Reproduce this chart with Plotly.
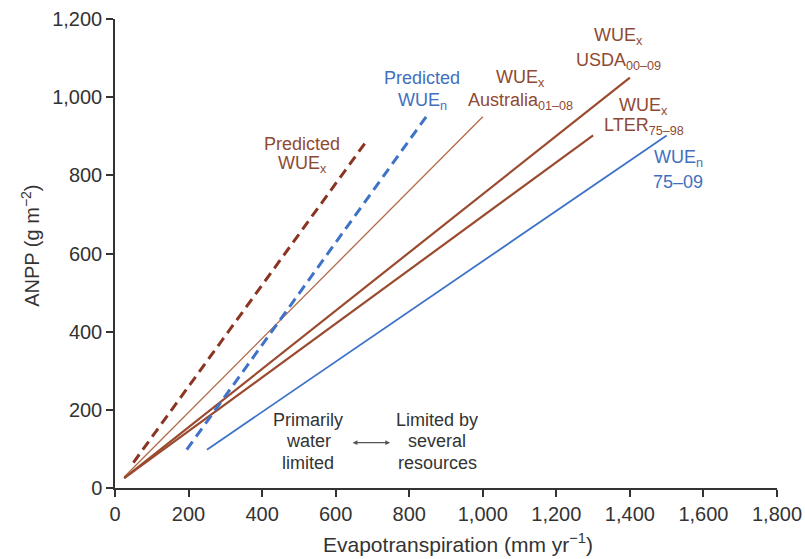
import plotly.graph_objects as go

# Line endpoints (ET in mm/yr, ANPP in g/m2)
pred_wuex_x = [50, 688]
pred_wuex_y = [65, 893]
pred_wuen_x = [195, 850]
pred_wuen_y = [98, 955]
aus_x = [25, 1000]
aus_y = [28, 950]
usda_x = [25, 1400]
usda_y = [25, 1050]
lter_x = [25, 1300]
lter_y = [25, 902]
wuen_x = [250, 1500]
wuen_y = [98, 902]

x_ticks = [0, 200, 400, 600, 800, 1000, 1200, 1400, 1600, 1800]
x_tick_labels = ["0", "200", "400", "600", "800", "1,000", "1,200", "1,400", "1,600", "1,800"]
y_ticks = [0, 200, 400, 600, 800, 1000, 1200]
y_tick_labels = ["0", "200", "400", "600", "800", "1,000", "1,200"]

BROWN = "#9a4a2e"
DARKRED = "#8a3422"
LIGHTBROWN = "#b06a48"
BLUE = "#3e73c8"
BLUE_TXT = "#4270c0"
TXT_BROWN = "#8f4a34"
AX = "#333333"
FONT = "Liberation Sans, Arial, sans-serif"

fig = go.Figure()
fig.add_trace(go.Scatter(x=aus_x, y=aus_y, mode="lines", line=dict(color=LIGHTBROWN, width=1.3), showlegend=False))
fig.add_trace(go.Scatter(x=usda_x, y=usda_y, mode="lines", line=dict(color=BROWN, width=2.2), showlegend=False))
fig.add_trace(go.Scatter(x=lter_x, y=lter_y, mode="lines", line=dict(color=BROWN, width=2.2), showlegend=False))
fig.add_trace(go.Scatter(x=wuen_x, y=wuen_y, mode="lines", line=dict(color=BLUE, width=1.8), showlegend=False))
fig.add_trace(go.Scatter(x=pred_wuex_x, y=pred_wuex_y, mode="lines",
                         line=dict(color=DARKRED, width=3, dash="10px,6px"), showlegend=False))
fig.add_trace(go.Scatter(x=pred_wuen_x, y=pred_wuen_y, mode="lines",
                         line=dict(color=BLUE, width=3, dash="10px,6px"), showlegend=False))

# each label line: (x, y, text, colour)
labels = [
    (509, 880, "Predicted", TXT_BROWN),
    (509, 827, "WUE<sub>x</sub>", TXT_BROWN),
    (835, 1050, "Predicted", BLUE_TXT),
    (835, 990, "WUE<sub>n</sub>", BLUE_TXT),
    (1102, 1047, "WUE<sub>x</sub>", TXT_BROWN),
    (1102, 988, "Australia<sub>01–08</sub>", TXT_BROWN),
    (1369, 1155, "WUE<sub>x</sub>", TXT_BROWN),
    (1369, 1091, "USDA<sub>00–09</sub>", TXT_BROWN),
    (1437, 975, "WUE<sub>x</sub>", TXT_BROWN),
    (1437, 924, "LTER<sub>75–98</sub>", TXT_BROWN),
    (1532, 842, "WUE<sub>n</sub>", BLUE_TXT),
    (1532, 783, "75–09", BLUE_TXT),
    (525, 175, "Primarily", "#333"),
    (525, 120, "water", "#333"),
    (525, 65, "limited", "#333"),
    (876, 175, "Limited by", "#333"),
    (876, 120, "several", "#333"),
    (876, 65, "resources", "#333"),
]
annotations = []
for x, y, t, c in labels:
    annotations.append(dict(x=x, y=y, text=t, showarrow=False, xanchor="center", yanchor="middle",
                            font=dict(family=FONT, size=18, color=c)))

annotations.append(dict(x=748, y=116, ax=642, ay=116, axref="x", ayref="y", text="", showarrow=True,
                        arrowhead=2, arrowside="end+start", arrowsize=0.8, arrowwidth=1.2, arrowcolor="#555"))

annotations.append(dict(xref="paper", yref="paper", x=0.518, y=-0.118, text="Evapotranspiration (mm yr<sup>−1</sup>)",
                        showarrow=False, xanchor="center", yanchor="middle",
                        font=dict(family=FONT, size=21, color=AX)))
annotations.append(dict(xref="paper", yref="paper", x=-0.128, y=0.517, text="ANPP (g m<sup>−2</sup>)",
                        showarrow=False, xanchor="center", yanchor="middle", textangle=-90,
                        font=dict(family=FONT, size=20, color=AX)))

fig.update_layout(
    width=805, height=559,
    margin=dict(l=115, r=28, t=19, b=71),
    paper_bgcolor="white", plot_bgcolor="white",
    font=dict(family=FONT, size=20, color=AX),
    annotations=annotations,
    xaxis=dict(range=[0, 1800], tickvals=x_ticks, ticktext=x_tick_labels, showgrid=False, zeroline=False,
               showline=True, linecolor=AX, linewidth=1.5, ticks="outside", ticklen=7, tickwidth=1.5,
               tickcolor=AX, tickfont=dict(size=20), automargin=False),
    yaxis=dict(range=[0, 1200], tickvals=y_ticks, ticktext=y_tick_labels, showgrid=False, zeroline=False,
               showline=True, linecolor=AX, linewidth=1.5, ticks="outside", ticklen=7, tickwidth=1.5,
               tickcolor=AX, tickfont=dict(size=20), automargin=False),
)
fig.write_html("out.html")
